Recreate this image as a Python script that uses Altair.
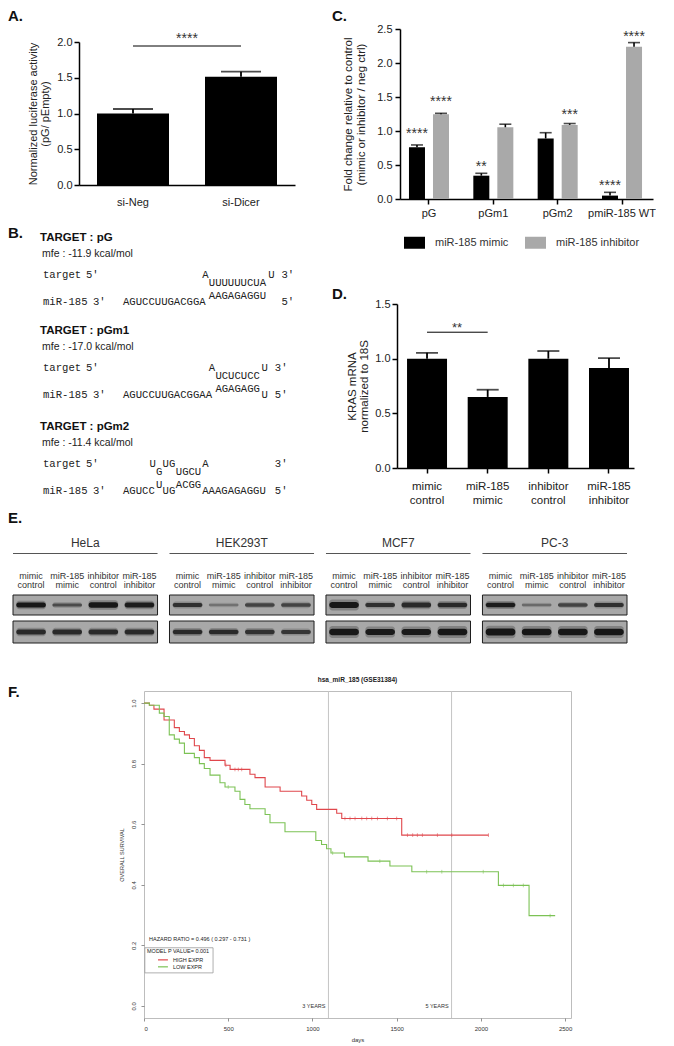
import altair as alt
import pandas as pd

SANS = "Liberation Sans"
MONO = "Liberation Mono"

# ---------------- Panel A data ----------------
A_CATS = ["si-Neg", "si-Dicer"]
A_VALS = [1.00, 1.515]
A_ERRS = [0.063, 0.070]
A_SIG_Y = 1.944
A_STAR_Y = 2.098
A_STARS = "****"
A_TICKS = [0, 0.5, 1.0, 1.5, 2.0]

# ---------------- Panel C data ----------------
C_GROUPS = ["pG", "pGm1", "pGm2", "pmiR-185 WT"]
C_SERIES = ["miR-185 mimic", "miR-185 inhibitor"]
C_COLORS = ["#000000", "#a9a9a9"]
C_MIMIC = [0.76, 0.343, 0.89, 0.05]
C_MIMIC_ERR = [0.035, 0.035, 0.085, 0.048]
C_INHIB = [1.245, 1.055, 1.09, 2.24]
C_INHIB_ERR = [0.015, 0.045, 0.02, 0.06]
C_MIMIC_STARS = ["****", "**", "", "****"]
C_INHIB_STARS = ["****", "", "***", "****"]
C_MIMIC_STAR_Y = [1.015, 0.53, 0.0, 0.25]
C_INHIB_STAR_Y = [1.485, 0.0, 1.294, 2.44]
C_TICKS = [0, 0.5, 1.0, 1.5, 2.0, 2.5]

# ---------------- Panel D data ----------------
D_CATS = ["mimic\ncontrol", "miR-185\nmimic", "inhibitor\ncontrol", "miR-185\ninhibitor"]
D_VALS = [1.0, 0.65, 1.0, 0.915]
D_ERRS = [0.053, 0.066, 0.07, 0.09]
D_SIG_Y = 1.242
D_STAR_Y = 1.313
D_STARS = "**"
D_TICKS = [0, 0.5, 1.0, 1.5]

# ---------------- Panel B data ----------------
B_BLOCKS = ["pG", "pGm1", "pGm2"]
B_MFE = ["-11.9", "-17.0", "-11.4"]
B_TOP = [238, 331, 427]
B_TARGET_ROW = [[(12, "A"), (22, "U"), (24, "3'")],
                [(13, "A"), (21, "U"), (23, "3'")],
                [(4, "U"), (6, "UG"), (12, "A"), (23, "3'")]]
B_UPPER_ROW = [[(13, "UUUUUUCUA")], [(14, "UCUCUCC")], [(5, "G"), (8, "UGCU")]]
B_LOWER_ROW = [[(13, "AAGAGAGGU")], [(14, "AGAGAGG")], [(5, "U"), (8, "ACGG")]]
B_MIR_ROW = [[(0, "AGUCCUUGACGGA"), (24, "5'")],
             [(0, "AGUCCUUGACGGAA"), (21, "U"), (23, "5'")],
             [(0, "AGUCC"), (6, "UG"), (12, "AAAGAGAGGU"), (23, "5'")]]
SEQ_X0 = 123
CHAR_W = 6.6

# ---------------- Panel E data ----------------
E_CELLS = ["HeLa", "HEK293T", "MCF7", "PC-3"]
E_LANES = ["mimic\ncontrol", "miR-185\nmimic", "inhibitor\ncontrol", "miR-185\ninhibitor"]
E_KRAS = [[0.95, 0.55, 0.95, 0.9], [0.75, 0.3, 0.6, 0.6], [0.95, 0.75, 0.8, 0.8], [0.9, 0.35, 0.6, 0.75]]
E_KRAS_T = [[0.24, 0.16, 0.27, 0.24], [0.2, 0.12, 0.17, 0.18], [0.3, 0.2, 0.24, 0.22], [0.22, 0.12, 0.17, 0.2]]
E_ACTIN = [[0.8, 0.8, 0.8, 0.8], [0.8, 0.8, 0.75, 0.7], [0.95, 0.92, 0.92, 0.95], [0.95, 0.95, 0.95, 0.95]]
E_ACTIN_T = [[0.22, 0.22, 0.22, 0.22], [0.2, 0.2, 0.2, 0.18], [0.3, 0.28, 0.28, 0.3], [0.32, 0.3, 0.3, 0.3]]

# ---------------- Panel F data ----------------
HIGH_T = [0, 32, 59, 119, 180, 210, 240, 270, 299, 329, 358, 392, 481, 511, 629, 659, 719, 808,
          936, 966, 996, 1025, 1144, 1174, 1530, 2045]
HIGH_S = [1.0, 0.993, 0.980, 0.944, 0.919, 0.906, 0.895, 0.883, 0.859, 0.844, 0.820, 0.811, 0.795,
          0.781, 0.765, 0.754, 0.723, 0.709, 0.693, 0.679, 0.665, 0.649, 0.636, 0.619, 0.564, 0.564]
LOW_T = [0, 32, 91, 119, 150, 180, 210, 240, 299, 329, 358, 392, 451, 481, 540, 570, 599, 629,
         719, 748, 837, 1020, 1054, 1084, 1110, 1190, 1330, 1460, 1590, 2104, 2286, 2441]
LOW_S = [1.0, 0.993, 0.967, 0.956, 0.895, 0.881, 0.868, 0.834, 0.820, 0.800, 0.784, 0.762, 0.737,
         0.723, 0.709, 0.682, 0.665, 0.651, 0.632, 0.605, 0.575, 0.546, 0.533, 0.519, 0.505, 0.492,
         0.478, 0.462, 0.443, 0.398, 0.298, 0.298]
HIGH_CENSOR = [486, 540, 560, 580, 1193, 1223, 1253, 1293, 1322, 1352, 1386, 1445, 1500, 1564,
               1595, 1623, 1653, 1742, 1827, 2045]
LOW_CENSOR = [500, 1120, 1400, 1678, 1768, 2014, 2134, 2193, 2252, 2411]
YEAR_LINES = [1095, 1826]
YEAR_LABELS = ["3 YEARS", "5 YEARS"]
KM_TITLE = "hsa_miR_185 (GSE31384)"
HR_TEXT = "HAZARD RATIO =  0.496  ( 0.297  -  0.731 )"
P_TEXT = "MODEL P VALUE=  0.001"
LEG_NAMES = ["HIGH EXPR", "LOW EXPR"]
RED = "#e0474c"
GREEN = "#7cc255"

LABEL_STYLE = dict(font=SANS, fontSize=15, fontWeight="bold", color="#111")


# ---------------- helpers ----------------
def spacer(w, h):
    return alt.Chart(pd.DataFrame({"v": [0]})).mark_point(opacity=0, size=1).properties(width=w, height=h)


def text_chart(layers, x0, y0, w, h):
    xs = alt.X("x:Q", scale=alt.Scale(domain=[x0, x0 + w], nice=False, zero=False), axis=None)
    ys = alt.Y("y:Q", scale=alt.Scale(domain=[y0, y0 + h], reverse=True, nice=False, zero=False), axis=None)
    charts = []
    for rows, style in layers:
        df = pd.DataFrame(rows)
        charts.append(alt.Chart(df).mark_text(align="left", baseline="middle", **style)
                      .encode(x=xs, y=ys, text="t:N"))
    return alt.layer(*charts).properties(width=w, height=h)


def label_chart(txt, x, y, x0, y0, w, h):
    return text_chart([([dict(x=x, y=y, t=txt)], LABEL_STYLE)], x0, y0, w, h)


def grid(rows):
    k = len(rows[0])
    items = [c for r in rows for c in r]
    return alt.ConcatChart(concat=items, columns=k, bounds="flush", spacing=0, align="each").resolve_scale(
        xOffset="independent", color="independent")


AX = dict(labelFontSize=11, domainWidth=1.5, tickWidth=1.5, domainColor="#000", tickColor="#000",
          labelColor="#222", titleColor="#222", labelOverlap=False, labelSeparation=-30)

# ---------------- Panel A ----------------
a_df = pd.DataFrame({"cat": A_CATS, "val": A_VALS, "err": A_ERRS})
a_df["hi"] = a_df["val"] + a_df["err"]
ax = alt.X("cat:N", sort=A_CATS, scale=alt.Scale(type="band", paddingInner=1 / 3, paddingOuter=1 / 6),
           axis=alt.Axis(title=None, ticks=False, labelAngle=0, labelPadding=11, **AX))
ay = alt.Y("val:Q", scale=alt.Scale(domain=[0, 2], range=[156, 13], nice=False),
           axis=alt.Axis(values=A_TICKS, format=".1f", tickCount=len(A_TICKS),
                         title=["Normalized luciferase activity", "(pG/ pEmpty)"],
                         titleFontSize=11, titleLineHeight=12, titlePadding=6, tickSize=5, labelPadding=2, **AX))
a_bars = alt.Chart(a_df).mark_bar(color="#000").encode(x=ax, y=ay)
a_err = alt.Chart(a_df).mark_rule(color="#000", strokeWidth=1.8).encode(
    x=alt.X("cat:N", sort=A_CATS), y="val:Q", y2="hi:Q")
a_cap = alt.Chart(a_df).mark_tick(orient="horizontal", size=40, thickness=1.8, color="#000").encode(
    x=alt.X("cat:N", sort=A_CATS), y="hi:Q")
a_sig_df = pd.DataFrame({"cat": [A_CATS[0]], "cat2": [A_CATS[1]], "val": [A_SIG_Y], "sy": [A_STAR_Y], "t": [A_STARS]})
a_sig = alt.Chart(a_sig_df).mark_rule(color="#000", strokeWidth=1).encode(
    x=alt.X("cat:N", sort=A_CATS), x2="cat2:N", y="val:Q")
a_star = alt.Chart(a_sig_df).mark_text(fontSize=14, baseline="alphabetic", dy=8, dx=54, color="#333").encode(
    x=alt.X("cat:N", sort=A_CATS), y="sy:Q", text="t:N")
chart_a = alt.layer(a_bars, a_err, a_cap, a_sig, a_star).properties(width=216, height=156)

# ---------------- Panel C ----------------
c_rows = []
for s, vals, errs, stars, sy in [(C_SERIES[0], C_MIMIC, C_MIMIC_ERR, C_MIMIC_STARS, C_MIMIC_STAR_Y),
                                 (C_SERIES[1], C_INHIB, C_INHIB_ERR, C_INHIB_STARS, C_INHIB_STAR_Y)]:
    for i, g in enumerate(C_GROUPS):
        c_rows.append(dict(grp=g, series=s, val=vals[i], hi=vals[i] + errs[i], star=stars[i], sy=sy[i]))
c_df = pd.DataFrame(c_rows)
cx = alt.X("grp:N", sort=C_GROUPS,
           scale=alt.Scale(type="band", paddingInner=0.378, paddingOuter=0.155, align=0.45),
           axis=alt.Axis(title=None, labelAngle=0, tickSize=5, labelPadding=3, **AX))
cxo = alt.XOffset("series:N", sort=C_SERIES, scale=alt.Scale(type="band", paddingInner=1 / 3, paddingOuter=0))
cy = alt.Y("val:Q", scale=alt.Scale(domain=[0, 2.5], nice=False),
           axis=alt.Axis(values=C_TICKS, format=".1f", tickCount=len(C_TICKS),
                         title=["Fold change relative to control", "(mimic or inhibitor / neg ctrl)"],
                         titleFontSize=11.5, titleLineHeight=13, titlePadding=10, tickSize=5, labelPadding=3, **AX))
c_bars = alt.Chart(c_df).mark_bar().encode(
    x=cx, xOffset=cxo, y=cy,
    color=alt.Color("series:N", scale=alt.Scale(domain=C_SERIES, range=C_COLORS),
                    legend=alt.Legend(orient="none", legendX=4, legendY=203, direction="horizontal", title=None,
                                      symbolType="M-1,-0.571L1,-0.571L1,0.571L-1,0.571Z", symbolSize=441,
                                      symbolStrokeWidth=0, symbolOpacity=1, labelFontSize=11, labelOffset=10,
                                      columnPadding=16, labelColor="#333", labelFont=SANS)))
c_err = alt.Chart(c_df).mark_rule(color="#000", strokeWidth=1.6).encode(
    x=alt.X("grp:N", sort=C_GROUPS), xOffset=alt.XOffset("series:N", sort=C_SERIES), y="val:Q", y2="hi:Q")
c_cap = alt.Chart(c_df).mark_tick(orient="horizontal", size=12, thickness=1.6, color="#000").encode(
    x=alt.X("grp:N", sort=C_GROUPS), xOffset=alt.XOffset("series:N", sort=C_SERIES), y="hi:Q")
c_star = alt.Chart(c_df).transform_filter("datum.star != ''").mark_text(
    fontSize=14, baseline="alphabetic", dy=8, color="#333").encode(
    x=alt.X("grp:N", sort=C_GROUPS), xOffset=alt.XOffset("series:N", sort=C_SERIES), y="sy:Q", text="star:N")
chart_c = alt.layer(c_bars, c_err, c_cap, c_star).properties(width=253, height=170)

# ---------------- Panel D ----------------
d_df = pd.DataFrame({"cond": D_CATS, "val": D_VALS, "err": D_ERRS})
d_df["hi"] = d_df["val"] + d_df["err"]
dx_ = alt.X("cond:N", sort=D_CATS,
            scale=alt.Scale(type="band", range=[-3, 234], paddingInner=0.3407, paddingOuter=0.124, align=0.667),
            axis=alt.Axis(title=None, labelAngle=0, labelExpr="split(datum.label, '\\n')", labelLineHeight=14,
                          tickSize=5, labelPadding=7, **{**AX, "labelFontSize": 11.5}))
dy_ = alt.Y("val:Q", scale=alt.Scale(domain=[0, 1.5], range=[242, 78], nice=False),
            axis=alt.Axis(values=D_TICKS, format=".1f", offset=3, tickCount=len(D_TICKS),
                          title=["KRAS mRNA", "normalized to 18S"], titleFontSize=11.5, titleLineHeight=12,
                          titlePadding=5, tickSize=5, labelPadding=2, **AX))
d_bars = alt.Chart(d_df).mark_bar(color="#000").encode(x=dx_, y=dy_)
d_err = alt.Chart(d_df).mark_rule(color="#000", strokeWidth=1.8).encode(
    x=alt.X("cond:N", sort=D_CATS), y="val:Q", y2="hi:Q")
d_cap = alt.Chart(d_df).mark_tick(orient="horizontal", size=22, thickness=1.8, color="#000").encode(
    x=alt.X("cond:N", sort=D_CATS), y="hi:Q")
d_sig_df = pd.DataFrame({"cond": [D_CATS[0]], "cond2": [D_CATS[1]], "val": [D_SIG_Y], "sy": [D_STAR_Y], "t": [D_STARS]})
d_sig = alt.Chart(d_sig_df).mark_rule(color="#000", strokeWidth=1).encode(
    x=alt.X("cond:N", sort=D_CATS), x2="cond2:N", y="val:Q")
d_star = alt.Chart(d_sig_df).mark_text(fontSize=13, baseline="alphabetic", dy=8, dx=30, color="#333").encode(
    x=alt.X("cond:N", sort=D_CATS), y="sy:Q", text="t:N")
chart_d = alt.layer(d_bars, d_err, d_cap, d_sig, d_star).properties(width=234, height=242)

# ---------------- Panel B ----------------
b_hdr, b_mfe, b_seq = [], [], []
for i, name in enumerate(B_BLOCKS):
    y0 = B_TOP[i]
    b_hdr.append(dict(x=40, y=y0, t=f"TARGET : {name}"))
    b_mfe.append(dict(x=42, y=y0 + 16, t=f"mfe : {B_MFE[i]} kcal/mol"))
    b_seq += [dict(x=43, y=y0 + 37, t="target"), dict(x=86, y=y0 + 37, t="5'"),
              dict(x=43, y=y0 + 64, t="miR-185"), dict(x=93, y=y0 + 64, t="3'")]
    for rowlist, off in [(B_TARGET_ROW[i], 37), (B_UPPER_ROW[i], 45), (B_LOWER_ROW[i], 58), (B_MIR_ROW[i], 64)]:
        for col, s in rowlist:
            b_seq.append(dict(x=SEQ_X0 + col * CHAR_W, y=y0 + off, t=s))
chart_b = text_chart([
    ([dict(x=8, y=233, t="B.")], LABEL_STYLE),
    (b_hdr, dict(font=SANS, fontSize=11.5, fontWeight="bold", color="#111")),
    (b_mfe, dict(font=SANS, fontSize=10.5, color="#222")),
    (b_seq, dict(font=MONO, fontSize=10.6, color="#222")),
], 8, 226, 71, 281)

# ---------------- Panel E ----------------
ex = alt.X("cell:N", sort=E_CELLS, scale=alt.Scale(type="band", paddingInner=0.0764, paddingOuter=0), axis=None)
exo = alt.XOffset("lane:N", sort=E_LANES, scale=alt.Scale(type="band", paddingInner=0.18, paddingOuter=0.09))
cells_df = pd.DataFrame({"cell": E_CELLS})
lanes_df = pd.DataFrame([dict(cell=c, lane=l) for c in E_CELLS for l in E_LANES])

e_header = alt.Chart(cells_df).mark_text(fontSize=12, color="#333", font=SANS).encode(
    x=ex, text="cell:N").properties(width=614, height=14)
e_line = alt.Chart(cells_df).mark_rect(color="#555").encode(x=ex).properties(width=614, height=1)
e_lanes = alt.Chart(lanes_df).mark_text(fontSize=9, lineBreak="\n", lineHeight=9.5, color="#333", font=SANS).encode(
    x=ex, xOffset=exo, text="lane:N").properties(width=614, height=25)


def blot(name, inten, half, h):
    rows = []
    for ci, c in enumerate(E_CELLS):
        for li, l in enumerate(E_LANES):
            it, th = inten[ci][li], half[ci][li]
            rows.append(dict(cell=c, lane=l, op=it, lo=-th, hi=th, lo2=-th * 1.8, hi2=th * 1.8, op2=it * 0.3))
    df = pd.DataFrame(rows)
    ysc = alt.Scale(domain=[-1, 1], nice=False, zero=False)
    bg_df = pd.DataFrame({"cell": E_CELLS, "lo": [-1] * 4, "hi": [1] * 4})
    bg = alt.Chart(bg_df).mark_rect(fill="#a8a8a8", stroke="#1e1e1e", strokeWidth=1).encode(
        x=ex, y=alt.Y("lo:Q", scale=ysc,
                      axis=alt.Axis(orient="right", values=[0], labelExpr=f"'{name}'", ticks=False, domain=False,
                                    grid=False, labelFontSize=11.5, labelPadding=5, labelColor="#222", title=None)),
        y2="hi:Q")
    halo = alt.Chart(df).mark_rect(color="#222", cornerRadius=3).encode(
        x=ex, xOffset=exo, y=alt.Y("lo2:Q", scale=ysc, axis=None), y2="hi2:Q",
        opacity=alt.Opacity("op2:Q", scale=None))
    core = alt.Chart(df).mark_rect(color="#111", cornerRadius=3).encode(
        x=ex, xOffset=exo, y=alt.Y("lo:Q", scale=ysc, axis=None), y2="hi:Q",
        opacity=alt.Opacity("op:Q", scale=None))
    return alt.layer(bg, halo, core).properties(width=614, height=h)


e_kras = blot("KRAS", E_KRAS, E_KRAS_T, 20)
e_actin = blot("β-Actin", E_ACTIN, E_ACTIN_T, 22)

# ---------------- Panel F ----------------
def step_at(ts, ss, t):
    v = ss[0]
    for ti, si in zip(ts, ss):
        if ti <= t:
            v = si
    return v


high_df = pd.DataFrame({"t": HIGH_T, "s": HIGH_S})
low_df = pd.DataFrame({"t": LOW_T, "s": LOW_S})
cens_df = pd.DataFrame(
    [dict(t=t, s=step_at(HIGH_T, HIGH_S, t), col=RED) for t in HIGH_CENSOR] +
    [dict(t=t, s=step_at(LOW_T, LOW_S, t), col=GREEN) for t in LOW_CENSOR])
kx = alt.X("t:Q", scale=alt.Scale(domain=[0, 2535], nice=False, zero=False),
           axis=alt.Axis(values=[0, 500, 1000, 1500, 2000, 2500], title="days", labelFontSize=6, titleFontSize=6,
                         tickSize=3, tickColor="#777", labelColor="#333", titleColor="#333", labelPadding=4,
                         titlePadding=5, domain=False, grid=False, tickWidth=0.8, format="d"))
ky = alt.Y("s:Q", scale=alt.Scale(domain=[-0.04, 1.04], nice=False, zero=False),
           axis=alt.Axis(values=[0, 0.2, 0.4, 0.6, 0.8, 1.0], format=".1f", labelAngle=270, labelAlign="center",
                         labelBaseline="bottom", labelFontSize=6, tickSize=3, tickColor="#777", labelColor="#333",
                         labelPadding=5, title="OVERALL SURVIVAL", titleFontSize=5.5, titleColor="#333",
                         titlePadding=6, domain=False, grid=False, tickWidth=0.8))
years_df = pd.DataFrame({"t": YEAR_LINES, "s": [0.0, 0.0], "lab": YEAR_LABELS})
k_years = alt.Chart(years_df).mark_rule(color="#c4c4c4", strokeWidth=1).encode(x=kx)
k_year_txt = alt.Chart(years_df).mark_text(align="right", baseline="middle", dx=-3, fontSize=5.5, color="#333").encode(
    x=alt.X("t:Q"), y=alt.Y("s:Q"), text="lab:N")
k_high = alt.Chart(high_df).mark_line(interpolate="step-after", color=RED, strokeWidth=1.1).encode(x="t:Q", y=ky)
k_low = alt.Chart(low_df).mark_line(interpolate="step-after", color=GREEN, strokeWidth=1.1).encode(x="t:Q", y="s:Q")
k_cens = alt.Chart(cens_df).mark_point(shape="M0,-1L0,1", size=14, filled=False, strokeWidth=0.8).encode(
    x="t:Q", y="s:Q", color=alt.Color("col:N", scale=None))
box_df = pd.DataFrame({"t": [5], "t2": [410], "s": [0.109], "s2": [0.192]})
k_box = alt.Chart(box_df).mark_rect(fill="white", stroke="#999", strokeWidth=0.8).encode(
    x="t:Q", x2="t2:Q", y="s:Q", y2="s2:Q")
legline_df = pd.DataFrame({"t": [83, 83], "t2": [142, 142], "s": [0.152, 0.129], "col": [RED, GREEN]})
k_legline = alt.Chart(legline_df).mark_rule(strokeWidth=1.2).encode(
    x="t:Q", x2="t2:Q", y="s:Q", color=alt.Color("col:N", scale=None))
ktxt_df = pd.DataFrame({"t": [30, 18, 172, 172], "s": [0.222, 0.182, 0.152, 0.129],
                        "lab": [HR_TEXT, P_TEXT, LEG_NAMES[0], LEG_NAMES[1]]})
k_txt = alt.Chart(ktxt_df).mark_text(align="left", baseline="middle", fontSize=5.5, color="#222").encode(
    x="t:Q", y="s:Q", text="lab:N")
chart_f = alt.layer(k_years, k_high, k_low, k_cens, k_year_txt, k_box, k_legline, k_txt).properties(
    width=427, height=327,
    title=alt.TitleParams(KM_TITLE, fontSize=6.5, fontWeight="bold", offset=7, anchor="middle", frame="group",
                          color="#222", font=SANS),
    view=alt.ViewBackground(stroke="#bdbdbd", strokeWidth=1))

# ---------------- layout ----------------
top = grid([
    [label_chart("A.", 8, 15.5, 8, 8, 71, 21), spacer(1, 1), label_chart("C.", 332, 15.5, 295, 8, 105, 21), spacer(1, 1)],
    [spacer(71, 197), chart_a, spacer(1, 1), chart_c],
    [chart_b, spacer(1, 1), label_chart("D.", 332, 294, 295, 226, 105, 281), chart_d],
    [label_chart("E.", 8, 518, 8, 507, 71, 19), spacer(1, 1), spacer(1, 1), spacer(1, 1)],
])

egrid = grid([
    [spacer(5, 10), spacer(1, 1)],
    [spacer(5, 14), e_header],
    [spacer(5, 3), spacer(1, 1)],
    [spacer(5, 1), e_line],
    [spacer(5, 9), spacer(1, 1)],
    [spacer(5, 25), e_lanes],
    [spacer(5, 7), spacer(1, 1)],
    [spacer(5, 20), e_kras],
    [spacer(5, 6), spacer(1, 1)],
    [spacer(5, 22), e_actin],
    [spacer(5, 7), spacer(1, 1)],
])

fgrid = grid([
    [spacer(136, 41), spacer(1, 1)],
    [label_chart("F.", 8, 692, 8, 691, 136, 327), chart_f],
])

chart = alt.VConcatChart(vconcat=[top, egrid, fgrid], spacing=0).resolve_scale(
    xOffset="independent", color="independent").properties(padding=0).configure(
    font=SANS).configure_view(stroke=None).configure_axis(
    labelFont=SANS, titleFont=SANS, titleFontWeight="normal", grid=False, labelOverlap=False).configure_legend(
    labelFont=SANS).configure_text(font=SANS)

chart.save("out.html", embed_options={"renderer": "svg", "actions": False})
